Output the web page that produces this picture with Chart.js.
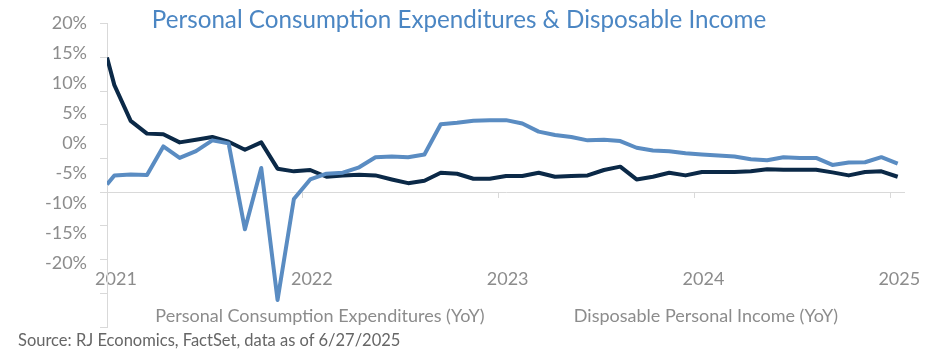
<!DOCTYPE html>
<html>
<head>
<meta charset="utf-8">
<script src="https://cdn.jsdelivr.net/npm/chart.js@4.4.1/dist/chart.umd.min.js"></script>
<style>
  html, body { margin: 0; padding: 0; background: #fff; }
  #wrap { position: relative; width: 937px; height: 361px; font-family: 'Lato', sans-serif; }
  #chart { position: absolute; left: 0; top: 0; }
  .txt { position: absolute; white-space: nowrap; transform: translate(-50%, -50%); line-height: 1; }
  #title { left: 459px; top: 19px; font-size: 24.2px; color: #4b86c3; }
  .leg { top: 315px; font-size: 18px; color: #8c8c8c; }
  #leg1 { left: 320px; }
  #leg2 { left: 706px; }
  #source { left: 18px; top: 340px; font-size: 16.5px; color: #666; transform: translate(0, -50%); }
</style>
</head>
<body>
<div id="wrap">
  <canvas id="chart" width="937" height="361"></canvas>
  <div id="title" class="txt">Personal Consumption Expenditures &amp; Disposable Income</div>
  <div id="leg1" class="txt leg">Personal Consumption Expenditures (YoY)</div>
  <div id="leg2" class="txt leg">Disposable Personal Income (YoY)</div>
  <div id="source" class="txt">Source: RJ Economics, FactSet, data as of 6/27/2025</div>
</div>
<script>
// observation dates (first point on 1 Jan 2021, then mid-month)
const dates = [
  '2021-01-01',
  '2021-01-15', '2021-02-15', '2021-03-15', '2021-04-15', '2021-05-15', '2021-06-15',
  '2021-07-15', '2021-08-15', '2021-09-15', '2021-10-15', '2021-11-15', '2021-12-15',
  '2022-01-15', '2022-02-15', '2022-03-15', '2022-04-15', '2022-05-15', '2022-06-15',
  '2022-07-15', '2022-08-15', '2022-09-15', '2022-10-15', '2022-11-15', '2022-12-15',
  '2023-01-15', '2023-02-15', '2023-03-15', '2023-04-15', '2023-05-15', '2023-06-15',
  '2023-07-15', '2023-08-15', '2023-09-15', '2023-10-15', '2023-11-15', '2023-12-15',
  '2024-01-15', '2024-02-15', '2024-03-15', '2024-04-15', '2024-05-15', '2024-06-15',
  '2024-07-15', '2024-08-15', '2024-09-15', '2024-10-15', '2024-11-15', '2024-12-15',
  '2025-01-15'
];
const pce = [
  1.15,
  2.5, 2.65, 2.55, 6.8, 5.1, 6.1, 7.7, 7.25, -5.5, 3.6, -16.0, -1.0,
  1.9, 2.75, 2.9, 3.7, 5.2, 5.3, 5.2, 5.6, 10.1, 10.3, 10.6, 10.7,
  10.7, 10.2, 9.0, 8.5, 8.2, 7.7, 7.8, 7.6, 6.6, 6.2, 6.1, 5.8,
  5.6, 5.45, 5.3, 4.9, 4.75, 5.2, 5.1, 5.1, 4.05, 4.4, 4.45, 5.2,
  4.25
];
const dpi = [
  20.0,
  15.9, 10.6, 8.7, 8.6, 7.4, 7.8, 8.2, 7.5, 6.3, 7.4, 3.5, 3.1,
  3.3, 2.3, 2.5, 2.6, 2.5, 1.9, 1.35, 1.7, 2.9, 2.75, 2.0, 2.0,
  2.4, 2.4, 2.9, 2.3, 2.4, 2.5, 3.3, 3.8, 1.9, 2.3, 2.9, 2.5,
  3.0, 3.0, 3.0, 3.1, 3.4, 3.35, 3.35, 3.35, 2.95, 2.5, 3.0, 3.1,
  2.3
];
const yearLabels = ['2021', '2022', '2023', '2024', '2025'];
const yTickLabels = [20, 15, 10, 5, 0, -5, -10, -15, -20];

// months since 1 Jan 2021
const xOf = d => {
  const [yy, mm, dd] = d.split('-').map(Number);
  return (yy - 2021) * 12 + (mm - 1) + (dd - 1) / 31;
};
const yearTickValues = yearLabels.map(y => (Number(y) - 2021) * 12);
const toPoints = vals => vals.map((v, i) => ({ x: xOf(dates[i]), y: v }));

const axisGrey = '#d9d9d9';
const labelGrey = '#8c8c8c';

new Chart(document.getElementById('chart'), {
  type: 'line',
  data: {
    datasets: [
      {
        label: 'Personal Consumption Expenditures (YoY)',
        data: toPoints(pce),
        borderColor: '#5a8cc2',
        borderWidth: 4,
        xAxisID: 'x',
        yAxisID: 'y'
      },
      {
        label: 'Disposable Personal Income (YoY)',
        data: toPoints(dpi),
        borderColor: '#0b2947',
        borderWidth: 4,
        xAxisID: 'x',
        yAxisID: 'y'
      }
    ]
  },
  options: {
    responsive: false,
    animation: false,
    layout: { padding: { top: 18, bottom: 34, left: 0, right: 32 } },
    elements: { point: { radius: 0 }, line: { tension: 0, borderJoinStyle: 'round' } },
    plugins: { legend: { display: false }, tooltip: { enabled: false } },
    scales: {
      x: {
        type: 'linear',
        min: 0,
        max: 48.9,
        position: { y: -9.7 },
        grid: { display: false },
        border: { display: false },
        afterBuildTicks: s => { s.ticks = yearTickValues.map(v => ({ value: v })); },
        ticks: {
          padding: 3,
          labelOffset: 9,
          color: labelGrey,
          font: { family: 'Lato', size: 18 },
          callback: (v) => yearLabels[yearTickValues.indexOf(v)]
        }
      },
      xz: {
        axis: 'x',
        type: 'linear',
        min: 0,
        max: 48.9,
        position: { y: 0 },
        border: { display: false },
        grid: { drawOnChartArea: false, drawTicks: true, tickLength: 6, tickColor: axisGrey },
        afterBuildTicks: s => { s.ticks = yearTickValues.map(v => ({ value: v })); },
        ticks: { display: false }
      },
      y: {
        type: 'linear',
        position: 'left',
        weight: 0,
        min: -20,
        max: 25,
        border: { display: true, color: axisGrey, width: 1 },
        grid: {
          drawTicks: true,
          tickLength: 7,
          tickColor: axisGrey,
          color: ctx => (ctx.tick && ctx.tick.value === 0 ? axisGrey : 'rgba(0,0,0,0)')
        },
        ticks: { display: false, stepSize: 5 }
      },
      yl: {
        axis: 'y',
        type: 'linear',
        position: 'left',
        weight: 1,
        min: -30.61,
        max: 19.84,
        grid: { display: false, drawTicks: false },
        border: { display: false },
        afterBuildTicks: s => { s.ticks = yTickLabels.map(v => ({ value: v })); },
        afterFit: s => { s.width = 100; },
        ticks: {
          padding: 13,
          color: labelGrey,
          font: { family: 'Lato', size: 18 },
          callback: v => v + '%'
        }
      }
    }
  }
});
</script>
</body>
</html>
